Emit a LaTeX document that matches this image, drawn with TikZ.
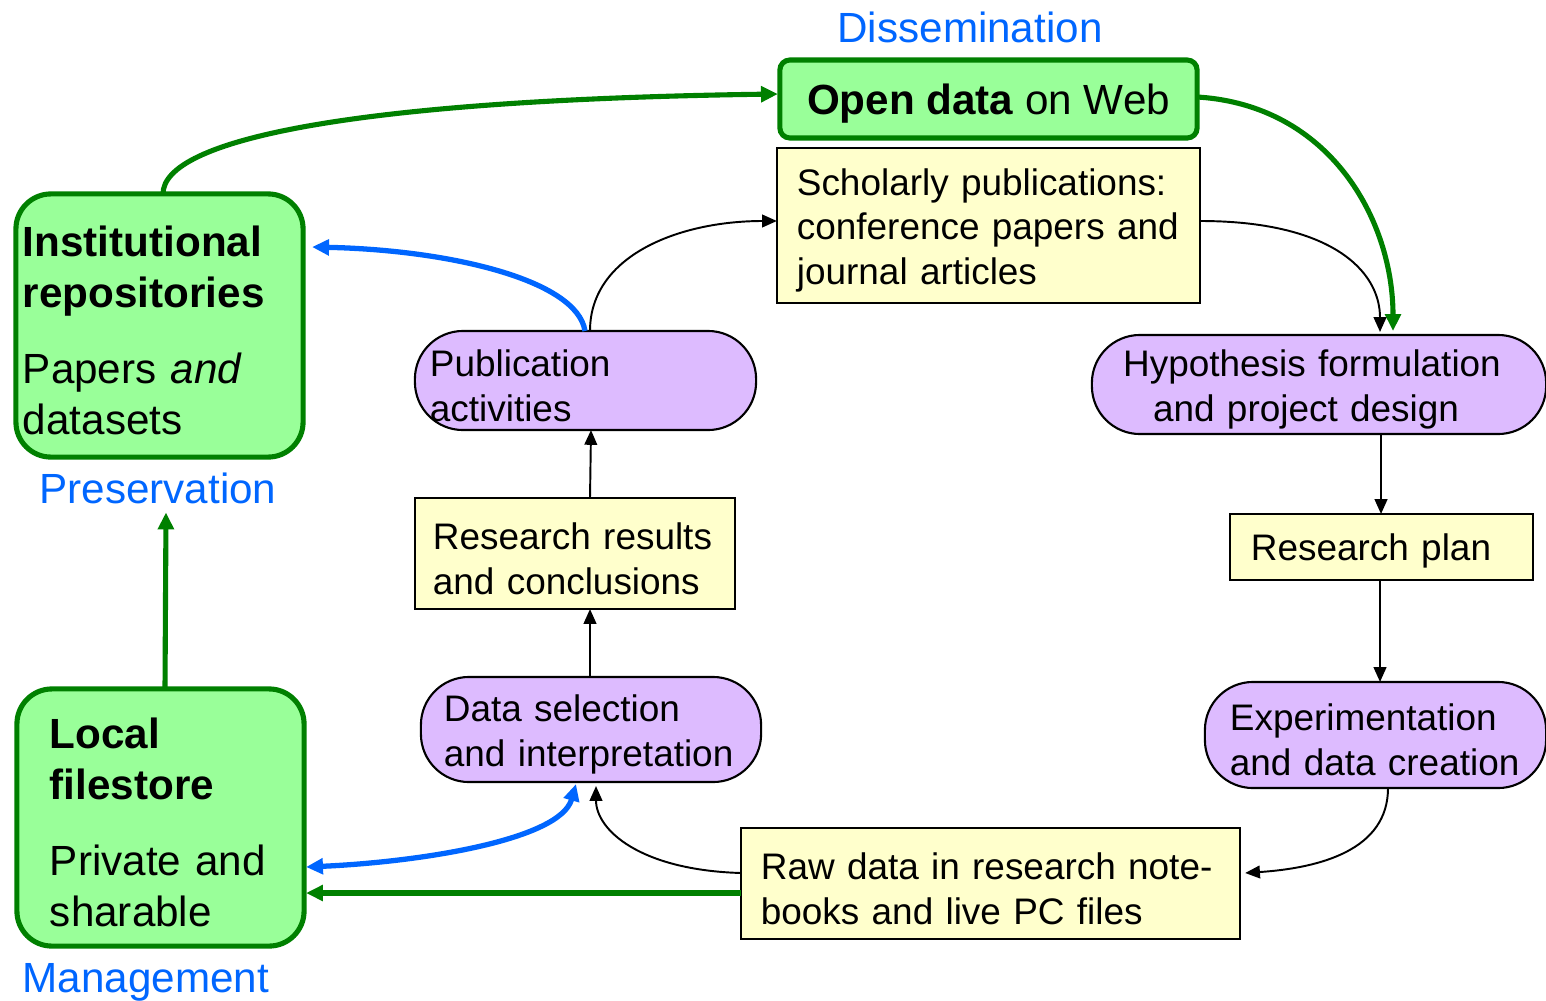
\documentclass[tikz,border=0pt]{standalone}
\usepackage{fontspec}
\setmainfont{Liberation Sans}
\usetikzlibrary{arrows.meta,calc}
\definecolor{boxgreen}{HTML}{99FF99}
\definecolor{edgegreen}{HTML}{008000}
\definecolor{flowblue}{HTML}{0066FF}
\definecolor{noteyellow}{HTML}{FFFFCC}
\definecolor{steplilac}{HTML}{DDBBFF}
\begin{document}
\begin{tikzpicture}[x=0.01cm,y=-0.01cm,
  every node/.style={inner sep=0pt, outer sep=0pt},
  bodyfont/.style={font=\fontsize{10.5}{12.76}\selectfont},
  lowered/.style={execute at end node={\endgraf\vspace{-2.8pt}}},
  store/.style={draw=edgegreen, fill=boxgreen, line width=1.45pt, rounded corners=0.35cm,
    align=left, font=\fontsize{12}{14.4}\selectfont},
  note/.style={draw=black, fill=noteyellow, line width=0.6pt, align=left, lowered, bodyfont},
  activity/.style={draw=black, fill=steplilac, line width=0.6pt, rounded corners=0.48cm,
    align=left, lowered, bodyfont},
  phase/.style={text=flowblue, font=\fontsize{12}{14.4}\selectfont, anchor=base},
  flow/.style={draw=black, line width=0.55pt, -{Triangle[length=4.2pt,width=3.6pt]}},
  greenflow/.style={draw=edgegreen, line width=1.45pt, -{Triangle[length=4.8pt,width=4.4pt]}},
  blueflow/.style={draw=flowblue, line width=1.5pt, -{Triangle[length=4.8pt,width=4.4pt]}},
  bluetwoway/.style={draw=flowblue, line width=1.5pt,
    {Triangle[length=4.8pt,width=4.4pt]}-{Triangle[length=4.8pt,width=4.4pt]}}]
\useasboundingbox (0,0) rectangle (1546,1000);

% repositories and web
\node[store, minimum width=4.17cm, minimum height=0.78cm, rounded corners=0.1cm, align=center, text depth=0pt]
  (open) at (988.5,99) {\textbf{Open data} on Web};
\node[store, lowered, minimum width=2.87cm, minimum height=2.63cm, text width=2.73cm]
  (inst) at (159.5,325.5) {\textbf{Institutional}\\\textbf{repositories}\\[7.4pt]Papers \textit{and}\\datasets};
\node[store, lowered, minimum width=2.87cm, minimum height=2.57cm, text width=2.21cm]
  (local) at (160.5,817.5) {\textbf{Local}\\\textbf{filestore}\\[7.4pt]Private and\\sharable};

% research cycle
\node[note, minimum width=4.23cm, minimum height=1.55cm, text width=3.83cm]
  (schol) at (988.5,225.5) {Scholarly publications:\\conference papers and\\journal articles};
\node[activity, minimum width=3.41cm, minimum height=0.99cm, text width=3.11cm]
  (pub) at (585.5,380.5) {Publication\\activities};
\node[note, minimum width=3.2cm, minimum height=1.11cm, text width=2.84cm]
  (res) at (575,553.5) {Research results\\and conclusions};
\node[activity, minimum width=3.4cm, minimum height=1.05cm, text width=2.94cm]
  (data) at (591,729.5) {Data selection\\and interpretation};
\node[activity, minimum width=4.54cm, minimum height=0.99cm, text width=4.34cm, align=center]
  (hyp) at (1319,384.5) {Hypothesis formulation\kern0.14cm\\and project design\kern0.26cm};
\node[note, minimum width=3.03cm, minimum height=0.66cm, text width=2.61cm]
  (plan) at (1381.5,547) {Research plan};
\node[activity, minimum width=3.41cm, minimum height=1.06cm, text width=2.91cm]
  (exp) at (1375.5,735) {Experimentation\\and data creation};
\node[note, minimum width=4.99cm, minimum height=1.11cm, text width=4.59cm]
  (raw) at (990.5,883.5) {Raw data in research note-\\books and live PC files};

% phase labels
\node[phase] (diss) at (970,42) {Dissemination};
\node[phase] (pres) at (158,503) {Preservation};
\node[phase] (mgmt) at (146,992) {Management};

% green data flows
\draw[greenflow] ($(inst.north)+(3.5,0)$) .. controls (163,140) and (350,100) .. ($(open.west)+(-2,-5)$);
\draw[greenflow] ($(open.east)+(0,-2)$) .. controls (1330,105) and (1393,220) .. ($(hyp.north)+(74,-4)$);
\draw[greenflow] ($(raw.west)+(0,9.5)$) -- ($(local.east)+(2,75.5)$);
\draw[greenflow] ($(local.north)+(4.5,0)$) -- ($(pres.south)+(8,9)$);

% blue flows
\draw[blueflow] ($(pub.north)+(-0.5,0)$) .. controls (577,280) and (450,250) .. ($(inst.east)+(9,-78.5)$);
\draw[bluetwoway] ($(data.south)+(-15,2)$) .. controls (560,840) and (420,862) .. ($(local.east)+(2,49.5)$);

% research cycle connectors
\draw[flow] ($(schol.east)+(0,-4.5)$) .. controls (1330,221) and (1380,270) .. ($(hyp.north)+(61,-3)$);
\draw[flow] ($(pub.north)+(4.5,0)$) .. controls (590,255) and (680,221) .. ($(schol.west)+(0,-4.5)$);
\draw[flow] ($(res.north)+(15,0)$) -- ($(pub.south)+(5.5,0)$);
\draw[flow] ($(data.north)+(-1,0)$) -- ($(res.south)+(15,0)$);
\draw[flow] ($(hyp.south)+(62,0)$) -- ($(plan.north)+(-0.5,0)$);
\draw[flow] ($(plan.south)+(-1.5,0)$) -- ($(exp.north)+(4.5,0)$);
\draw[flow] ($(exp.south)+(12.5,0)$) .. controls (1388,850) and (1320,868) .. ($(raw.east)+(5,-10.5)$);
\draw[flow] ($(raw.west)+(0,-10.5)$) .. controls (640,870) and (596,830) .. ($(data.south)+(5,4)$);
\end{tikzpicture}
\end{document}
